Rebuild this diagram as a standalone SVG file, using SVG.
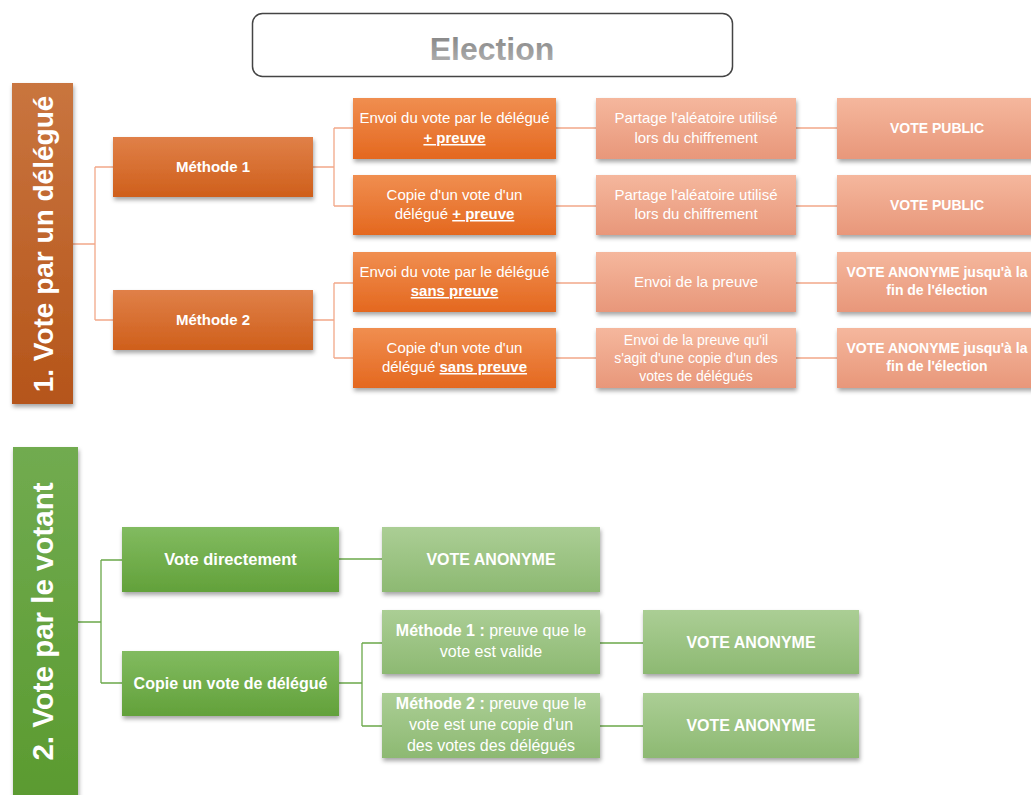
<svg xmlns="http://www.w3.org/2000/svg" width="1031" height="795" viewBox="0 0 1031 795">
<defs>
<linearGradient id="gBar1" x1="0" y1="0" x2="0" y2="1"><stop offset="0" stop-color="#C9753F"/><stop offset="1" stop-color="#B5551A"/></linearGradient>
<linearGradient id="gM" x1="0" y1="0" x2="0" y2="1"><stop offset="0" stop-color="#E08048"/><stop offset="1" stop-color="#CF5F1B"/></linearGradient>
<linearGradient id="gO" x1="0" y1="0" x2="0" y2="1"><stop offset="0" stop-color="#F08E50"/><stop offset="1" stop-color="#E4681F"/></linearGradient>
<linearGradient id="gS" x1="0" y1="0" x2="0" y2="1"><stop offset="0" stop-color="#F5B79D"/><stop offset="1" stop-color="#E8977A"/></linearGradient>
<linearGradient id="gBar2" x1="0" y1="0" x2="0" y2="1"><stop offset="0" stop-color="#71AB50"/><stop offset="1" stop-color="#5A9A2F"/></linearGradient>
<linearGradient id="gG" x1="0" y1="0" x2="0" y2="1"><stop offset="0" stop-color="#82BB60"/><stop offset="1" stop-color="#62A13A"/></linearGradient>
<linearGradient id="gGL" x1="0" y1="0" x2="0" y2="1"><stop offset="0" stop-color="#ABCE95"/><stop offset="1" stop-color="#8DB972"/></linearGradient>
<linearGradient id="gT" x1="0" y1="0" x2="0" y2="1"><stop offset="0" stop-color="#808080"/><stop offset="1" stop-color="#B5B5B5"/></linearGradient>
<filter id="sh" x="-10%" y="-10%" width="120%" height="140%"><feDropShadow dx="1" dy="3" stdDeviation="2" flood-color="#000" flood-opacity="0.35"/></filter>
</defs>
<style>
text{font-family:"Liberation Sans",Arial,sans-serif;fill:#fff;text-anchor:middle}
.t{font-size:15px}
.b{font-weight:bold}
.u{font-weight:bold;text-decoration:underline}
.c1{fill:none;stroke:#F2A889;stroke-width:1.3}
.c2{fill:none;stroke:#6BA84A;stroke-width:1.3}
</style>

<g id="connectors">
<path class="c1" d="M73 244H95M95 167V320M95 167H113M95 320H113"/>
<path class="c1" d="M313 167H334M334 128V206M334 128H353M334 206H353"/>
<path class="c1" d="M313 320H334M334 283V358M334 283H353M334 358H353"/>
<path class="c1" d="M556 128H596M556 206H596M556 283H596M556 358H596"/>
<path class="c1" d="M796 128H837M796 206H837M796 283H837M796 358H837"/>
<path class="c2" d="M78 622H101M101 560V683M101 560H122M101 683H122"/>
<path class="c2" d="M339 559H382"/>
<path class="c2" d="M339 683H362M362 643V726M362 643H382M362 726H382"/>
<path class="c2" d="M600 643H643M600 726H643"/>
</g>

<g id="election">
<rect x="252.5" y="13.5" width="480" height="63" rx="10" fill="#fff" stroke="#444" stroke-width="1.5"/>
<text x="492" y="60" class="b" style="font-size:32px;fill:url(#gT)">Election</text>
</g>

<g id="bar1">
<rect x="12" y="83" width="61" height="321" fill="url(#gBar1)" filter="url(#sh)"/>
<text transform="translate(53 244) rotate(-90)" class="b" style="font-size:28px">1. Vote par un délégué</text>
</g>

<g id="m1">
<rect x="113" y="137" width="200" height="60" fill="url(#gM)" filter="url(#sh)"/>
<text x="213" y="172" class="b t">Méthode 1</text>
</g>
<g id="m2">
<rect x="113" y="290" width="200" height="60" fill="url(#gM)" filter="url(#sh)"/>
<text x="213" y="325" class="b t">Méthode 2</text>
</g>

<g id="o1">
<rect x="353" y="98" width="203" height="61" fill="url(#gO)" filter="url(#sh)"/>
<text x="454.5" y="123" class="t">Envoi du vote par le délégué</text>
<text x="454.5" y="143" class="t"><tspan class="u">+ preuve</tspan></text>
</g>
<g id="o2">
<rect x="353" y="175" width="203" height="60" fill="url(#gO)" filter="url(#sh)"/>
<text x="454.5" y="200" class="t">Copie d'un vote d'un</text>
<text x="454.5" y="219" class="t">délégué <tspan class="u">+ preuve</tspan></text>
</g>
<g id="o3">
<rect x="353" y="252" width="203" height="60" fill="url(#gO)" filter="url(#sh)"/>
<text x="454.5" y="277" class="t">Envoi du vote par le délégué</text>
<text x="454.5" y="296" class="t"><tspan class="u">sans preuve</tspan></text>
</g>
<g id="o4">
<rect x="353" y="328" width="203" height="60" fill="url(#gO)" filter="url(#sh)"/>
<text x="454.5" y="353" class="t">Copie d'un vote d'un</text>
<text x="454.5" y="372" class="t">délégué <tspan class="u">sans preuve</tspan></text>
</g>

<g id="s1">
<rect x="596" y="98" width="200" height="61" fill="url(#gS)" filter="url(#sh)"/>
<text x="696" y="123" class="t">Partage l'aléatoire utilisé</text>
<text x="696" y="143" class="t">lors du chiffrement</text>
</g>
<g id="s2">
<rect x="596" y="175" width="200" height="60" fill="url(#gS)" filter="url(#sh)"/>
<text x="696" y="200" class="t">Partage l'aléatoire utilisé</text>
<text x="696" y="219" class="t">lors du chiffrement</text>
</g>
<g id="s3">
<rect x="596" y="252" width="200" height="60" fill="url(#gS)" filter="url(#sh)"/>
<text x="696" y="287" class="t">Envoi de la preuve</text>
</g>
<g id="s4">
<rect x="596" y="328" width="200" height="60" fill="url(#gS)" filter="url(#sh)"/>
<text x="696" y="345" class="t" style="font-size:14px">Envoi de la preuve qu'il</text>
<text x="696" y="363" class="t" style="font-size:14px">s'agit d'une copie d'un des</text>
<text x="696" y="381" class="t" style="font-size:14px">votes de délégués</text>
</g>

<g id="p1">
<rect x="837" y="98" width="200" height="61" fill="url(#gS)" filter="url(#sh)"/>
<text x="937" y="133" class="b" style="font-size:14px">VOTE PUBLIC</text>
</g>
<g id="p2">
<rect x="837" y="175" width="200" height="60" fill="url(#gS)" filter="url(#sh)"/>
<text x="937" y="210" class="b" style="font-size:14px">VOTE PUBLIC</text>
</g>
<g id="p3">
<rect x="837" y="252" width="200" height="60" fill="url(#gS)" filter="url(#sh)"/>
<text x="937" y="277" class="b" style="font-size:14px">VOTE ANONYME jusqu'à la</text>
<text x="937" y="295" class="b" style="font-size:14px">fin de l'élection</text>
</g>
<g id="p4">
<rect x="837" y="328" width="200" height="60" fill="url(#gS)" filter="url(#sh)"/>
<text x="937" y="353" class="b" style="font-size:14px">VOTE ANONYME jusqu'à la</text>
<text x="937" y="371" class="b" style="font-size:14px">fin de l'élection</text>
</g>

<g id="bar2">
<rect x="13" y="447" width="65" height="360" fill="url(#gBar2)" filter="url(#sh)"/>
<text transform="translate(53 621.5) rotate(-90)" class="b" style="font-size:29.5px">2. Vote par le votant</text>
</g>

<g id="vd">
<rect x="122" y="527" width="217" height="65" fill="url(#gG)" filter="url(#sh)"/>
<text x="230.5" y="565" class="b" style="font-size:16.5px">Vote directement</text>
</g>
<g id="cv">
<rect x="122" y="651" width="217" height="65" fill="url(#gG)" filter="url(#sh)"/>
<text x="230.5" y="689" class="b" style="font-size:16px">Copie un vote de délégué</text>
</g>

<g id="va1">
<rect x="382" y="527" width="218" height="65" fill="url(#gGL)" filter="url(#sh)"/>
<text x="491" y="565" class="b" style="font-size:16px">VOTE ANONYME</text>
</g>
<g id="gm1">
<rect x="382" y="610" width="218" height="64" fill="url(#gGL)" filter="url(#sh)"/>
<text x="491" y="636" style="font-size:16px"><tspan class="b">Méthode 1 :</tspan> preuve que le</text>
<text x="491" y="657" style="font-size:16px">vote est valide</text>
</g>
<g id="gm2">
<rect x="382" y="693" width="218" height="65" fill="url(#gGL)" filter="url(#sh)"/>
<text x="491" y="709" style="font-size:16px"><tspan class="b">Méthode 2 :</tspan> preuve que le</text>
<text x="491" y="730" style="font-size:16px">vote est une copie  d'un</text>
<text x="491" y="751" style="font-size:16px">des votes des délégués</text>
</g>

<g id="va2">
<rect x="643" y="610" width="216" height="64" fill="url(#gGL)" filter="url(#sh)"/>
<text x="751" y="648" class="b" style="font-size:16px">VOTE ANONYME</text>
</g>
<g id="va3">
<rect x="643" y="693" width="216" height="65" fill="url(#gGL)" filter="url(#sh)"/>
<text x="751" y="731" class="b" style="font-size:16px">VOTE ANONYME</text>
</g>
</svg>
